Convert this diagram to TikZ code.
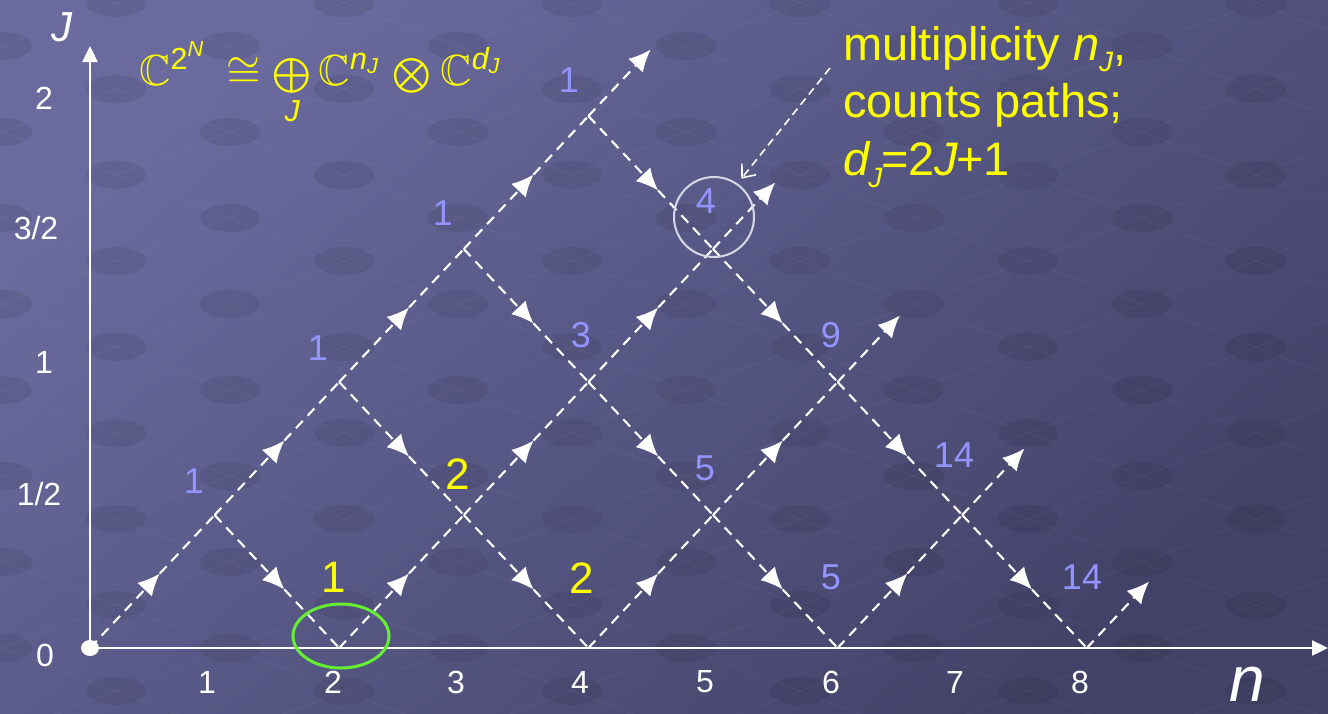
\documentclass[tikz,border=0pt]{standalone}
\usepackage{amsmath,amssymb}
\usepackage{fontspec}
\setmainfont{Liberation Sans}
\usetikzlibrary{arrows.meta,decorations.markings}
\definecolor{bgA}{HTML}{6A6A9E}
\definecolor{bgB}{HTML}{424268}
\definecolor{lav}{HTML}{9494FF}
\definecolor{yel}{HTML}{FFFF00}
\definecolor{grn}{HTML}{66EE33}
\definecolor{ring}{HTML}{D8D8E8}
\newcommand\asi[1]{\text{\normalfont\itshape #1}}
\begin{document}
\begin{tikzpicture}[x=1pt,y=-1pt,
  axisline/.style={white, line width=2.4pt, -{Triangle[length=16pt,width=15pt]}},
  seg/.style={draw=white, line width=2.1pt, dash pattern=on 10pt off 7pt,
    postaction={decorate, decoration={markings,
      mark=at position 0.56 with {\arrow{Latex[length=22pt,width=20pt]}}}}},
  segend/.style={draw=white, line width=2.1pt, dash pattern=on 10pt off 7pt,
    -{Latex[length=22pt,width=20pt]}},
  ticklab/.style={text=white, font=\fontsize{32}{32}\selectfont, inner sep=0pt},
  cnt/.style={text=lav, font=\fontsize{36}{36}\selectfont, inner sep=0pt},
  ycnt/.style={text=yel, font=\fontsize{44}{44}\selectfont, inner sep=0pt},
  calltext/.style={text=yel, font=\fontsize{47}{57}\selectfont, inner sep=0pt, anchor=base west},
  dotc/.style={fill=black, opacity=0.07},
  gridl/.style={white, opacity=0.035, line width=1.3pt}]
\useasboundingbox (0,0) rectangle (1328,713);
% background
\shade[top color=bgA, bottom color=bgB, shading angle=40] (0,0) rectangle (1328,713);
\begin{scope}
\clip (0,0) rectangle (1328,713);
\foreach \j in {-7,...,11}{
  \draw[gridl] ({230+114*(-7+\j)},{390+43*(-7-\j)}) -- ({230+114*(11+\j)},{390+43*(11-\j)});
  \draw[gridl] ({230+114*(\j-7)},{390+43*(\j+7)}) -- ({230+114*(\j+11)},{390+43*(\j-11)});
}
\foreach \i in {-7,...,11}{\foreach \j in {-7,...,11}{
  \fill[dotc] ({230+114*(\i+\j)},{390+43*(\i-\j)}) ellipse (30 and 14);
}}
\end{scope}
% axes
\coordinate (O) at (90,648);
\coordinate (Xend) at (1328,648);
\coordinate (Yend) at (90,46);
\draw[axisline] (O) -- (Xend);
\draw[axisline] (O) -- (Yend);
\fill[white] (O) ellipse (9 and 8);
\node[text=white, font=\fontsize{42}{42}\selectfont\itshape, inner sep=0pt] (Jlab) at (62,27) {J};
\node[text=white, font=\fontsize{64}{64}\selectfont\itshape, inner sep=0pt] (nlab) at (1247,684) {n};
% tick labels
\node[ticklab] (j2) at (44,98) {2};
\node[ticklab] (j32) at (36,228) {3/2};
\node[ticklab] (j1) at (44,362) {1};
\node[ticklab] (j12) at (39,494) {1/2};
\node[ticklab] (j0) at (45,655) {0};
\foreach \k/\xx in {1/207,2/333,3/456,4/580,5/705,6/831,7/955,8/1080}
  \node[ticklab] (nt\k) at (\xx,682) {\k};
% lattice
\begin{scope}[shift={(90,648)}, x=124.6pt, y=133pt]
\foreach \n/\k in {0/0,1/1,2/2,3/3,4/4,2/0,3/1,4/2,5/3,4/0,5/1,6/2,6/0,7/1,8/0}
  \coordinate (p\n\k) at (\n,\k);
\coordinate (e1) at (4.5,4.5);
\coordinate (e2) at (5.5,3.5);
\coordinate (e3) at (6.5,2.5);
\coordinate (e4) at (7.5,1.5);
\coordinate (e5) at (8.5,0.5);
\end{scope}
\foreach \a/\b in {p00/p11,p11/p22,p22/p33,p33/p44,p20/p31,p31/p42,p42/p53,p40/p51,p51/p62,p60/p71,
  p11/p20,p22/p31,p31/p40,p33/p42,p42/p51,p51/p60,p44/p53,p53/p62,p62/p71,p71/p80}
  \draw[seg] (\a) -- (\b);
\foreach \a/\b in {p44/e1,p53/e2,p62/e3,p71/e4,p80/e5}
  \draw[segend] (\a) -- (\b);
% counts
\node[cnt] (c1) at (569,80) {1};
\node[cnt] (c2) at (443,213) {1};
\node[cnt] (c3) at (318,348) {1};
\node[cnt] (c4) at (194,481) {1};
\node[cnt] (c5) at (706,201) {4};
\node[cnt] (c6) at (581,335) {3};
\node[cnt] (c7) at (831,335) {9};
\node[cnt] (c8) at (705,468) {5};
\node[cnt] (c9) at (954,455) {14};
\node[cnt] (c10) at (831,577) {5};
\node[cnt] (c11) at (1082,577) {14};
\node[ycnt] (y1) at (334,577) {1};
\node[ycnt] (y2) at (458,474) {2};
\node[ycnt] (y3) at (582,578) {2};
% rings
\node[draw=ring, line width=2pt, circle, minimum size=80pt, inner sep=0pt] (ring) at (714,217) {};
\draw[grn, line width=3pt] (341,636) ellipse (48 and 32);
% formula
\node[text=yel, anchor=base west, inner sep=0pt] (formula) at (139,85)
  {\scalebox{4.35}{\fontsize{10}{12}\selectfont$\mathbb{C}^{\text{2}^{\asi{N}}}\,\cong\mathop{\scalebox{0.8}{$\textstyle\bigoplus$}}\limits_{\asi{J}}\mathbb{C}^{\asi{n}_{\asi{J}}}\mathbin{\scalebox{0.8}{$\textstyle\bigotimes$}}\mathbb{C}^{\asi{d}_{\asi{J}}}$}};
% callout
\node[calltext] (t1) at (843,60) {multiplicity {\itshape n}\raisebox{-11pt}{\fontsize{28}{28}\selectfont\itshape J},};
\node[calltext] (t2) at (843,117) {counts paths;};
\node[calltext] (t3) at (843,175) {{\itshape d}\kern-1pt\raisebox{-12pt}{\fontsize{28}{28}\selectfont\itshape J}\kern-1pt=2{\itshape J}\kern-2pt+1};
\coordinate (co) at (830,68);
\draw[white, line width=1.6pt, dash pattern=on 8pt off 5pt, -{Straight Barb[length=11pt,width=18pt]}, shorten >=6pt] (co) -- (ring.55);
\end{tikzpicture}
\end{document}
